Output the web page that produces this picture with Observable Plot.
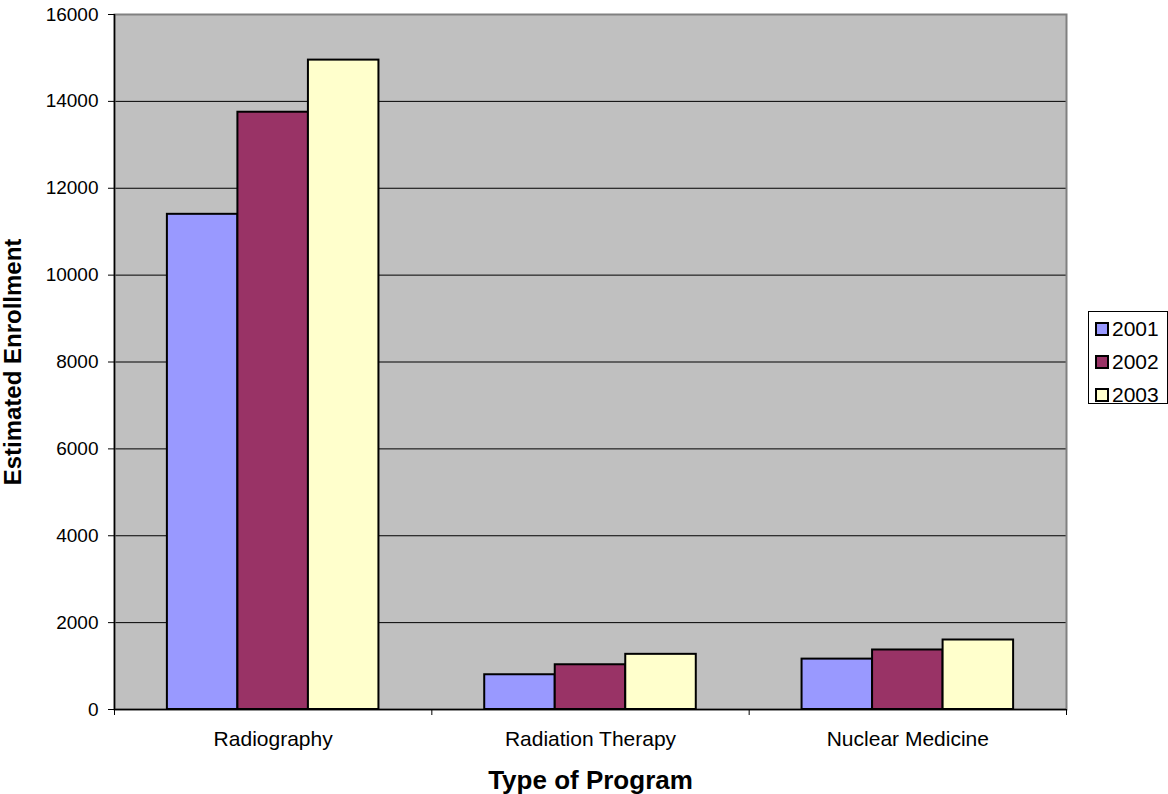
<!DOCTYPE html>
<html>
<head>
<meta charset="utf-8">
<script src="https://cdn.jsdelivr.net/npm/d3@7"></script>
<script src="https://cdn.jsdelivr.net/npm/@observablehq/plot@0.6"></script>
<style>
  html, body { margin: 0; padding: 0; background: #fff; }
  #wrap { position: relative; width: 1168px; height: 794px; font-family: "Liberation Sans", Arial, sans-serif; }
  #legend { position: absolute; left: 1088px; top: 311px; width: 80px; height: 93px; box-sizing: border-box;
            border: 1px solid #000; background: #fff; }
  .row { position: absolute; left: 6px; height: 24px; display: flex; align-items: center; font-size: 21px; color: #000; }
  .sw { width: 10px; height: 10px; border: 2px solid #000; margin-right: 3px; }
</style>
</head>
<body>
<div id="wrap"></div>
<script>
const categories = ["Radiography", "Radiation Therapy", "Nuclear Medicine"];
const years = ["2001", "2002", "2003"];
const values2001 = [11400, 800, 1160];
const values2002 = [13750, 1030, 1370];
const values2003 = [14950, 1270, 1600];
const yTicks = [0, 2000, 4000, 6000, 8000, 10000, 12000, 14000, 16000];
const colors = ["#9999FF", "#993366", "#FFFFCC"];

const series = [values2001, values2002, values2003];
const groupWidth = 2 / 3;
const barWidth = groupWidth / years.length;
const data = [];
categories.forEach((c, i) => {
  years.forEach((yr, j) => {
    const start = i + (1 - groupWidth) / 2 + j * barWidth;
    data.push({category: c, year: yr, value: series[j][i], x1: start, x2: start + barWidth});
  });
});

const chart = Plot.plot({
  width: 1168,
  height: 794,
  marginLeft: 114,
  marginRight: 102,
  marginTop: 14,
  marginBottom: 85,
  style: {fontFamily: "'Liberation Sans', Arial, sans-serif", background: "#fff", color: "#000", overflow: "visible"},
  x: {domain: [0, categories.length], label: null},
  y: {domain: [0, 16000], label: null},
  color: {domain: years, range: colors},
  marks: [
    Plot.frame({fill: "#c0c0c0"}),
    Plot.ruleY(yTicks.filter(d => d > 0 && d < 16000), {stroke: "#000", strokeWidth: 1}),
    Plot.frame({stroke: "#808080", strokeWidth: 2}),
    Plot.rectY(data, {x1: "x1", x2: "x2", y1: 0, y2: "value", fill: "year", stroke: "#000", strokeWidth: 2}),
    Plot.ruleX([0], {stroke: "#000", strokeWidth: 1.5}),
    Plot.ruleY([0], {stroke: "#000", strokeWidth: 1.5}),
    Plot.axisY({ticks: yTicks, tickSize: 6, tickPadding: 10, fontSize: 19, tickFormat: d => String(d), label: null}),
    Plot.axisX({ticks: [0, 1, 2, 3], tickSize: 6, tickFormat: () => "", label: null}),
    Plot.axisX({ticks: categories.map((c, i) => i + 0.5), tickSize: 0, tickPadding: 22, fontSize: 21,
                tickFormat: d => categories[Math.floor(d)], label: null}),
    Plot.text(["Type of Program"], {frameAnchor: "bottom", dy: 79, lineAnchor: "bottom", textAnchor: "middle", fontSize: 26, fontWeight: "bold", fill: "#000"}),
    Plot.text(["Estimated Enrollment"], {frameAnchor: "left", dx: -101, rotate: -90, textAnchor: "middle", lineAnchor: "middle", fontSize: 24, fontWeight: "bold", fill: "#000"})
  ]
});

const wrap = document.getElementById("wrap");
wrap.appendChild(chart);

const legend = document.createElement("div");
legend.id = "legend";
const rowCenters = [17, 50, 83];
years.forEach((yr, j) => {
  const row = document.createElement("div");
  row.className = "row";
  row.style.top = (rowCenters[j] - 12) + "px";
  const sw = document.createElement("div");
  sw.className = "sw";
  sw.style.background = colors[j];
  const t = document.createElement("span");
  t.textContent = yr;
  row.appendChild(sw);
  row.appendChild(t);
  legend.appendChild(row);
});
wrap.appendChild(legend);
</script>
</body>
</html>
